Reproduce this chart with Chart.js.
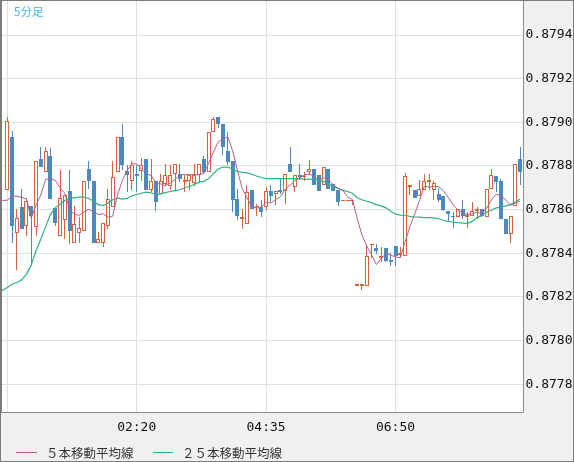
<!DOCTYPE html>
<html>
<head>
<meta charset="utf-8">
<title>5分足</title>
<script src="https://cdn.jsdelivr.net/npm/chart.js@4.4.1/dist/chart.umd.min.js"></script>
<style>
  html, body { margin: 0; padding: 0; background: #f0f0f0; }
  #wrap { width: 574px; height: 462px; }
</style>
</head>
<body>
<div id="wrap"><canvas id="chart5m" width="574" height="462"></canvas></div>
<script>
"use strict";

// 5分足, index 0 = 00:05 ... index 107 = 09:00
var open = [
    0.878692, 0.878934, 0.878491, 0.878614, 0.878526, 0.878618, 0.878522, 0.878834, 0.878772, 0.878846,
    0.878608, 0.878477, 0.878552, 0.878685, 0.878445, 0.878491, 0.878503, 0.878788, 0.878729, 0.878446,
    0.878446, 0.878526, 0.878611, 0.878774, 0.878931, 0.878775, 0.878729, 0.878762, 0.878775, 0.878834,
    0.878692, 0.878729, 0.878672, 0.878718, 0.878708, 0.878762, 0.878765, 0.878727, 0.878729, 0.878720,
    0.878760, 0.878834, 0.878772, 0.878957, 0.879026, 0.878992, 0.878868, 0.878823, 0.878649, 0.878557,
    0.878534, 0.878688, 0.878610, 0.878610, 0.878611, 0.878683, 0.878670, 0.878688, 0.878685, 0.878808,
    0.878703, 0.878760, 0.878748, 0.878772, 0.878788, 0.878760, 0.878711, 0.878788, 0.878715, 0.878688,
    0.878638, 0.878638, 0.878638, 0.878250, 0.878250, 0.878250, 0.878437, 0.878422, 0.878380, 0.878426,
    0.878368, 0.878434, 0.878392, 0.878388, 0.878704, 0.878688, 0.878660, 0.878688, 0.878728, 0.878688,
    0.878672, 0.878660, 0.878595, 0.878572, 0.878568, 0.878603, 0.878567, 0.878572, 0.878595, 0.878603,
    0.878568, 0.878695, 0.878752, 0.878729, 0.878557, 0.878488, 0.878618, 0.878834
];
var high = [
    0.879026, 0.878962, 0.878603, 0.878695, 0.878654, 0.878618, 0.878822, 0.878888, 0.878885, 0.878880,
    0.878608, 0.878780, 0.878665, 0.878783, 0.878618, 0.878565, 0.878729, 0.878822, 0.878729, 0.878495,
    0.878538, 0.878695, 0.878822, 0.878931, 0.878992, 0.878803, 0.878822, 0.878803, 0.878837, 0.878834,
    0.878831, 0.878729, 0.878765, 0.878808, 0.878803, 0.878808, 0.878808, 0.878760, 0.878760, 0.878808,
    0.878811, 0.878845, 0.878957, 0.879026, 0.879026, 0.878992, 0.878957, 0.878823, 0.878695, 0.878603,
    0.878711, 0.878688, 0.878626, 0.878642, 0.878703, 0.878711, 0.878683, 0.878742, 0.878765, 0.878888,
    0.878760, 0.878808, 0.878772, 0.878829, 0.878788, 0.878760, 0.878795, 0.878788, 0.878715, 0.878688,
    0.878638, 0.878638, 0.878638, 0.878250, 0.878252, 0.878434, 0.878442, 0.878442, 0.878430, 0.878426,
    0.878403, 0.878434, 0.878429, 0.878768, 0.878706, 0.878688, 0.878734, 0.878765, 0.878765, 0.878729,
    0.878698, 0.878660, 0.878595, 0.878588, 0.878603, 0.878642, 0.878588, 0.878637, 0.878611, 0.878603,
    0.878695, 0.878788, 0.878752, 0.878742, 0.878557, 0.878569, 0.878808, 0.878888
];
var low = [
    0.878690, 0.878445, 0.878322, 0.878510, 0.878480, 0.878342, 0.878480, 0.878795, 0.878770, 0.878649,
    0.878526, 0.878477, 0.878465, 0.878442, 0.878445, 0.878445, 0.878503, 0.878695, 0.878446, 0.878446,
    0.878430, 0.878511, 0.878610, 0.878774, 0.878780, 0.878680, 0.878688, 0.878680, 0.878729, 0.878692,
    0.878680, 0.878592, 0.878670, 0.878710, 0.878688, 0.878688, 0.878726, 0.878680, 0.878688, 0.878710,
    0.878726, 0.878765, 0.878772, 0.878957, 0.878972, 0.878852, 0.878806, 0.878588, 0.878554, 0.878511,
    0.878534, 0.878603, 0.878572, 0.878568, 0.878600, 0.878634, 0.878623, 0.878670, 0.878626, 0.878770,
    0.878680, 0.878734, 0.878729, 0.878760, 0.878711, 0.878685, 0.878711, 0.878695, 0.878683, 0.878615,
    0.878638, 0.878638, 0.878620, 0.878250, 0.878230, 0.878250, 0.878378, 0.878395, 0.878362, 0.878360,
    0.878342, 0.878342, 0.878380, 0.878388, 0.878665, 0.878654, 0.878660, 0.878688, 0.878688, 0.878642,
    0.878637, 0.878592, 0.878549, 0.878515, 0.878568, 0.878557, 0.878515, 0.878569, 0.878557, 0.878568,
    0.878568, 0.878695, 0.878680, 0.878557, 0.878488, 0.878445, 0.878618, 0.878711
];
var close = [
    0.879006, 0.878523, 0.878562, 0.878511, 0.878638, 0.878569, 0.878822, 0.878795, 0.878869, 0.878649,
    0.878537, 0.878654, 0.878665, 0.878500, 0.878534, 0.878515, 0.878729, 0.878729, 0.878446, 0.878465,
    0.878538, 0.878649, 0.878751, 0.878931, 0.878803, 0.878760, 0.878806, 0.878752, 0.878806, 0.878692,
    0.878729, 0.878634, 0.878729, 0.878760, 0.878760, 0.878808, 0.878742, 0.878729, 0.878760, 0.878760,
    0.878811, 0.878772, 0.878957, 0.879015, 0.878991, 0.878885, 0.878818, 0.878646, 0.878569, 0.878568,
    0.878680, 0.878603, 0.878615, 0.878588, 0.878683, 0.878660, 0.878683, 0.878680, 0.878765, 0.878772,
    0.878760, 0.878749, 0.878750, 0.878788, 0.878711, 0.878685, 0.878795, 0.878695, 0.878683, 0.878634,
    0.878638, 0.878638, 0.878638, 0.878250, 0.878252, 0.878388, 0.878442, 0.878408, 0.878385, 0.878365,
    0.878362, 0.878388, 0.878398, 0.878752, 0.878706, 0.878654, 0.878695, 0.878729, 0.878730, 0.878723,
    0.878646, 0.878600, 0.878580, 0.878565, 0.878603, 0.878572, 0.878569, 0.878592, 0.878603, 0.878572,
    0.878695, 0.878760, 0.878726, 0.878557, 0.878488, 0.878569, 0.878808, 0.878772
];

// moving averages, first value sits at index -2 (left of the first candle)
var maStart = -2;
var ma5 = [
    0.878642, 0.878642, 0.878643, 0.878660, 0.878662, 0.878656, 0.878648, 0.878561, 0.878620, 0.878667,
    0.878739, 0.878741, 0.878734, 0.878701, 0.878675, 0.878601, 0.878578, 0.878574, 0.878589, 0.878601,
    0.878591, 0.878577, 0.878581, 0.878565, 0.878570, 0.878667, 0.878734, 0.878779, 0.878810, 0.878810,
    0.878785, 0.878763, 0.878757, 0.878723, 0.878718, 0.878709, 0.878722, 0.878738, 0.878760, 0.878760,
    0.878760, 0.878760, 0.878760, 0.878766, 0.878812, 0.878863, 0.878909, 0.878924, 0.878933, 0.878871,
    0.878782, 0.878697, 0.878656, 0.878613, 0.878607, 0.878611, 0.878634, 0.878630, 0.878646, 0.878659,
    0.878694, 0.878712, 0.878732, 0.878745, 0.878759, 0.878764, 0.878752, 0.878737, 0.878746, 0.878735,
    0.878714, 0.878698, 0.878689, 0.878658, 0.878646, 0.878560, 0.878483, 0.878433, 0.878394, 0.878348,
    0.878375, 0.878398, 0.878392, 0.878382, 0.878380, 0.878453, 0.878521, 0.878580, 0.878641, 0.878707,
    0.878703, 0.878706, 0.878705, 0.878686, 0.878656, 0.878623, 0.878599, 0.878584, 0.878578, 0.878580,
    0.878588, 0.878582, 0.878606, 0.878644, 0.878671, 0.878662, 0.878645, 0.878620, 0.878630, 0.878639
];
var ma25 = [
    0.878213, 0.878230, 0.878243, 0.878258, 0.878266, 0.878278, 0.878303, 0.878346, 0.878411, 0.878465,
    0.878522, 0.878577, 0.878608, 0.878623, 0.878642, 0.878654, 0.878654, 0.878657, 0.878657, 0.878651,
    0.878638, 0.878623, 0.878618, 0.878629, 0.878645, 0.878654, 0.878648, 0.878651, 0.878663, 0.878669,
    0.878675, 0.878680, 0.878677, 0.878669, 0.878672, 0.878678, 0.878683, 0.878687, 0.878691, 0.878700,
    0.878706, 0.878715, 0.878726, 0.878729, 0.878742, 0.878765, 0.878786, 0.878795, 0.878795, 0.878786,
    0.878775, 0.878771, 0.878768, 0.878762, 0.878754, 0.878747, 0.878742, 0.878742, 0.878742, 0.878742,
    0.878742, 0.878742, 0.878742, 0.878742, 0.878740, 0.878740, 0.878738, 0.878734, 0.878729, 0.878718,
    0.878706, 0.878697, 0.878688, 0.878683, 0.878675, 0.878654, 0.878645, 0.878638, 0.878632, 0.878623,
    0.878617, 0.878608, 0.878592, 0.878580, 0.878575, 0.878574, 0.878569, 0.878566, 0.878565, 0.878563,
    0.878563, 0.878562, 0.878558, 0.878551, 0.878546, 0.878543, 0.878540, 0.878538, 0.878537, 0.878546,
    0.878562, 0.878574, 0.878588, 0.878598, 0.878608, 0.878612, 0.878617, 0.878623, 0.878635, 0.878649
];

var xTickIndex = [0, 27, 54, 81];
var xTickLabels = ['', '02:20', '04:35', '06:50'];
var yTicks = [0.8778, 0.8780, 0.8782, 0.8784, 0.8786, 0.8788, 0.8790, 0.8792, 0.8794];

var upColor = '#d8623f';
var downColor = '#4b89bf';

var isUp = close.map(function (c, i) { return c >= open[i]; });

// snap candle rectangles to whole pixels so outlines stay crisp
var snapPlugin = {
    id: 'snap',
    afterDatasetsUpdate: function (chart) {
        chart.data.datasets.forEach(function (ds, di) {
            if (ds.type === 'line') return;
            var meta = chart.getDatasetMeta(di);
            meta.data.forEach(function (el) {
                var top = Math.round(Math.min(el.y, el.base));
                var bottom = Math.round(Math.max(el.y, el.base));
                if (bottom - top < 1 && ds.label === 'body') bottom = top + 1;
                el.y = top;
                el.base = bottom;
                el.x = ds.label === 'wick' ? Math.floor(el.x) + 0.5 : Math.round(el.x);
            });
        });
    }
};

// background, frame, title and legend
var framePlugin = {
    id: 'frame',
    beforeDraw: function (chart) {
        var ctx = chart.ctx, a = chart.chartArea;
        ctx.save();
        ctx.fillStyle = '#f0f0f0';
        ctx.fillRect(0, 0, chart.width, chart.height);
        ctx.fillStyle = '#ffffff';
        ctx.fillRect(a.left, a.top, a.right - a.left, a.bottom - a.top);
        ctx.restore();
    },
    afterDraw: function (chart) {
        var ctx = chart.ctx, a = chart.chartArea;
        ctx.save();
        ctx.lineWidth = 1;
        ctx.strokeStyle = '#8c8c8c';
        ctx.beginPath();
        ctx.moveTo(a.right, 0);
        ctx.lineTo(a.right, a.bottom);
        ctx.moveTo(0, a.bottom);
        ctx.lineTo(a.right, a.bottom);
        ctx.stroke();

        ctx.strokeStyle = '#7c7c78';
        ctx.strokeRect(0.5, 0.5, chart.width - 1, chart.height - 1);
        ctx.beginPath();
        ctx.moveTo(1.5, 0);
        ctx.lineTo(1.5, a.bottom);
        ctx.stroke();

        // title
        ctx.fillStyle = '#3db4ea';
        ctx.font = '11.5px "Noto Sans CJK JP"';
        ctx.textBaseline = 'middle';
        ctx.textAlign = 'left';
        ctx.fillText('5分足', 14, 12);

        // legend
        ctx.font = '12.5px "Noto Sans CJK JP"';
        ctx.fillStyle = '#333333';
        ctx.strokeStyle = '#b35d8d';
        ctx.beginPath();
        ctx.moveTo(16, 452.5);
        ctx.lineTo(37, 452.5);
        ctx.stroke();
        ctx.fillText('５本移動平均線', 46, 453);
        ctx.strokeStyle = '#2ab37b';
        ctx.beginPath();
        ctx.moveTo(153, 452.5);
        ctx.lineTo(173, 452.5);
        ctx.stroke();
        ctx.fillText('２５本移動平均線', 182, 453);
        ctx.restore();
    }
};

var ctx = document.getElementById('chart5m').getContext('2d');

var chart = new Chart(ctx, {
    type: 'bar',
    data: {
        datasets: [{
            type: 'line',
            label: '５本移動平均線',
            data: ma5.map(function (v, i) { return { x: maStart + i, y: v }; }),
            borderColor: '#b35d8d',
            borderWidth: 1,
            pointRadius: 0,
            tension: 0,
            order: 0
        }, {
            type: 'line',
            label: '２５本移動平均線',
            data: ma25.map(function (v, i) { return { x: maStart + i, y: v }; }),
            borderColor: '#2ab37b',
            borderWidth: 1.2,
            pointRadius: 0,
            tension: 0,
            order: 0
        }, {
            label: 'body',
            data: open.map(function (o, i) { return { x: i, y: [o, close[i]] }; }),
            backgroundColor: isUp.map(function (u) { return u ? '#ffffff' : downColor; }),
            borderColor: isUp.map(function (u) { return u ? upColor : downColor; }),
            borderWidth: 1,
            borderSkipped: false,
            barThickness: 4,
            minBarLength: 1.5,
            inflateAmount: 0,
            grouped: false,
            order: 1
        }, {
            label: 'wick',
            data: low.map(function (l, i) { return { x: i, y: [l, high[i]] }; }),
            backgroundColor: isUp.map(function (u) { return u ? upColor : downColor; }),
            borderWidth: 0,
            barThickness: 1,
            inflateAmount: 0,
            grouped: false,
            order: 2
        }]
    },
    options: {
        responsive: false,
        animation: false,
        events: [],
        layout: {
            autoPadding: false,
            padding: { left: 1, top: 1, right: 0, bottom: 26 }
        },
        scales: {
            x: {
                type: 'linear',
                position: 'bottom',
                min: -1.31,
                max: 107.7,
                offset: false,
                grid: { color: '#e0e0e0', drawTicks: false, offset: false },
                border: { display: false },
                ticks: {
                    padding: 7,
                    maxRotation: 0,
                    color: '#111111',
                    font: { family: 'DejaVu Sans Mono', size: 13 },
                    callback: function (value) {
                        var k = xTickIndex.indexOf(value);
                        return k >= 0 ? xTickLabels[k] : '';
                    }
                },
                afterBuildTicks: function (scale) {
                    scale.ticks = xTickIndex.map(function (v) { return { value: v }; });
                },
                afterFit: function (scale) {
                    scale.height = 23.5;
                    scale.paddingLeft = 0;
                    scale.paddingRight = 0;
                }
            },
            y: {
                type: 'linear',
                position: 'right',
                min: 0.87767,
                max: 0.879556,
                grid: { color: '#e0e0e0', drawTicks: false },
                border: { display: false },
                ticks: {
                    padding: 2,
                    crossAlign: 'near',
                    color: '#111111',
                    font: { family: 'DejaVu Sans Mono', size: 13 },
                    callback: function (value) { return value.toFixed(4); }
                },
                afterBuildTicks: function (scale) {
                    scale.ticks = yTicks.map(function (v) { return { value: v }; });
                },
                afterFit: function (scale) {
                    scale.width = 50.5;
                    scale.paddingTop = 0;
                    scale.paddingBottom = 0;
                }
            }
        },
        plugins: {
            legend: { display: false },
            tooltip: { enabled: false }
        }
    },
    plugins: [snapPlugin, framePlugin]
});
</script>
</body>
</html>
